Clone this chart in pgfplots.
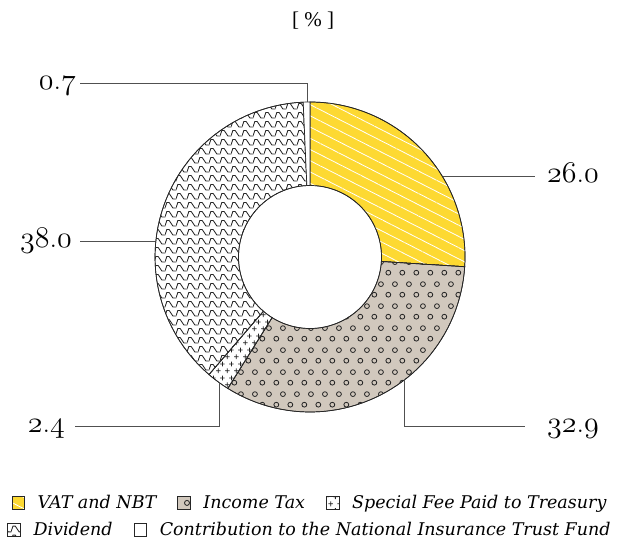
\RequirePackage{fix-cm}
\documentclass[border=0pt]{standalone}
\usepackage{fontspec}
\usepackage{pgfplots}
\usepackage{pgfplotstable}
\pgfplotsset{compat=1.18}
\usetikzlibrary{patterns,patterns.meta}
\newfontfamily\legfont{DejaVu Serif}
\newfontfamily\titfont{Liberation Serif}
\newcommand\osf[1]{{\usefont{OML}{cmm}{m}{it}#1}}
\definecolor{vatyellow}{RGB}{253,217,50}
\definecolor{taxbeige}{RGB}{209,200,189}
\definecolor{leader}{RGB}{80,80,80}

\pgfdeclarepattern{
  name=rings, type=uncolored,
  bottom left={\pgfpoint{0pt}{0pt}},
  top right={\pgfpoint{13.6pt}{22pt}},
  tile size={\pgfpoint{13.6pt}{22pt}},
  code={
    \pgfsetlinewidth{0.85pt}
    \pgfpathcircle{\pgfpoint{3.4pt}{5.5pt}}{2.5pt}
    \pgfpathcircle{\pgfpoint{10.2pt}{16.5pt}}{2.5pt}
    \pgfusepath{stroke}
  }
}
\pgfdeclarepattern{
  name=pluses, type=uncolored,
  bottom left={\pgfpoint{0pt}{0pt}},
  top right={\pgfpoint{9pt}{14pt}},
  tile size={\pgfpoint{9pt}{14pt}},
  code={
    \pgfsetlinewidth{0.8pt}
    \pgfpathmoveto{\pgfpoint{0pt}{3.5pt}}\pgfpathlineto{\pgfpoint{5pt}{3.5pt}}
    \pgfpathmoveto{\pgfpoint{2.5pt}{1pt}}\pgfpathlineto{\pgfpoint{2.5pt}{6pt}}
    \pgfpathmoveto{\pgfpoint{4.5pt}{10.5pt}}\pgfpathlineto{\pgfpoint{9.5pt}{10.5pt}}
    \pgfpathmoveto{\pgfpoint{7pt}{8pt}}\pgfpathlineto{\pgfpoint{7pt}{13pt}}
    \pgfusepath{stroke}
  }
}
\pgfdeclarepattern{
  name=zigzag, type=uncolored,
  bottom left={\pgfpoint{0pt}{0pt}},
  top right={\pgfpoint{11pt}{9pt}},
  tile size={\pgfpoint{11pt}{9pt}},
  code={
    \pgfsetlinewidth{0.9pt}
    \pgfpathmoveto{\pgfpoint{-1pt}{1.2pt}}
    \pgfpathlineto{\pgfpoint{0pt}{1.2pt}}
    \pgfpathlineto{\pgfpoint{2pt}{7.2pt}}
    \pgfpathlineto{\pgfpoint{4.5pt}{7.2pt}}
    \pgfpathlineto{\pgfpoint{8.5pt}{1.2pt}}
    \pgfpathlineto{\pgfpoint{12pt}{1.2pt}}
    \pgfusepath{stroke}
  }
}

\tikzset{
  slicebase/.style={draw=black!85, line width=0.7pt},
  vatst/.style={slicebase, fill=vatyellow, postaction={pattern={Lines[angle=-27,distance=10pt,line width=0.8pt]}, pattern color=white}},
  taxst/.style={slicebase, fill=taxbeige, postaction={pattern=rings, pattern color=black!85}},
  feest/.style={slicebase, fill=white, postaction={pattern=pluses, pattern color=black!85}},
  divst/.style={slicebase, fill=white, postaction={pattern=zigzag, pattern color=black!85}},
  nitfst/.style={slicebase, fill=white},
}

\pgfplotstableread{
part share
VAT 26.0
IncomeTax 32.9
SpecialFee 2.4
Dividend 38.0
NITF 0.7
}\shares

\newcommand\getshare[2]{\pgfplotstablegetelem{#1}{share}\of\shares\let#2\pgfplotsretval}
\getshare{0}\sA \getshare{1}\sB \getshare{2}\sC \getshare{3}\sD \getshare{4}\sE
\pgfmathsetmacro\cA{0}
\pgfmathsetmacro\cB{\cA+\sA}
\pgfmathsetmacro\cC{\cB+\sB}
\pgfmathsetmacro\cD{\cC+\sC}
\pgfmathsetmacro\cE{\cD+\sD}
\pgfmathsetmacro\cF{\cE+\sE}

\newcommand\slice[3]{%
  \addplot[#3, samples at={0,1,...,101}, variable=\k]
    ({rr(\k)*cos(aa(\k,#1,#2))}, {rr(\k)*sin(aa(\k,#1,#2))}) -- cycle;
}

\pgfplotsset{
  donutaxis/.style={
    x=1pt, y=1pt, xmin=-310, xmax=307, ymin=-284, ymax=257,
    hide axis, clip=false,
    legend cell align=left,
    legend columns=-1,
    legend image code/.code={\draw[##1, line width=0.6pt] (0pt,-6pt) rectangle (12.5pt,6.5pt);},
    legend style={draw=none, fill=none, font=\legfont\itshape\fontsize{17.5}{20}\selectfont,
      anchor=center,
      /tikz/every odd column/.append style={column sep=11pt},
      /tikz/every even column/.append style={column sep=19pt}},
    declare function={
      rr(\k)=(\k<50.5)*155+(\k>50.5)*71.5;
      aa(\k,\a,\b)=90-3.6*((\k<50.5)*(\a+\k/50*(\b-\a))+(\k>50.5)*(\b-(\k-51)/50*(\b-\a)));
    },
  },
}

\begin{document}
\begin{tikzpicture}
\begin{axis}[donutaxis,
  legend style={at={(0.5024,0.0702)}},
]
\addplot[draw=none, forget plot] coordinates {(-310,-284) (307,257)};
\slice{\cA}{\cB}{vatst}
\slice{\cB}{\cC}{taxst}
\slice{\cC}{\cD}{feest}
\slice{\cD}{\cE}{divst}
\slice{\cE}{\cF}{nitfst}
\legend{VAT and NBT, Income Tax, Special Fee Paid to Treasury}

% leader lines
\draw[leader, line width=0.8pt] (axis cs:-230,174) -- (axis cs:-3,174) -- (axis cs:-3,155);
\draw[leader, line width=0.8pt] (axis cs:133,81) -- (axis cs:225,81);
\draw[leader, line width=0.8pt] (axis cs:-230,16) -- (axis cs:-155,16);
\draw[leader, line width=0.8pt] (axis cs:-90.5,-125) -- (axis cs:-90.5,-169) -- (axis cs:-235,-169);
\draw[leader, line width=0.8pt] (axis cs:94.5,-122) -- (axis cs:94.5,-169) -- (axis cs:215,-169);

% value labels
\tikzset{vlab/.style={inner sep=0pt, font=\fontsize{30}{32}\selectfont}}
\node[vlab, anchor=base east] at (axis cs:-234,167.5) {\osf{0}.\osf{7}};
\node[vlab, anchor=base west] at (axis cs:237,74.5) {\osf{26}.\osf{0}};
\node[vlab, anchor=base east] at (axis cs:-238,9.5) {\osf{38}.\osf{0}};
\node[vlab, anchor=base east] at (axis cs:-245,-175.5) {\osf{2}.\osf{4}};
\node[vlab, anchor=base west] at (axis cs:237,-175.5) {\osf{32}.\osf{9}};
\node[font=\titfont\fontsize{21}{24}\selectfont] at (axis cs:3,236) {[ \% ]};
\end{axis}
\begin{axis}[donutaxis,
  legend style={at={(0.5024,0.0203)}},
]
\addplot[draw=none, forget plot] coordinates {(-310,-284) (307,257)};
\addlegendimage{divst}
\addlegendimage{nitfst}
\legend{Dividend, Contribution to the National Insurance Trust Fund}
\end{axis}
\end{tikzpicture}
\end{document}
